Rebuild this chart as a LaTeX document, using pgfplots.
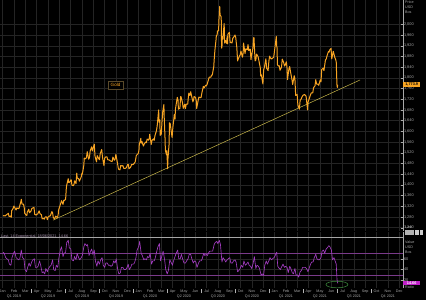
\documentclass[border=0pt]{standalone}
\usepackage{pgfplots}
\pgfplotsset{compat=1.18}
\usepackage{pgfplotstable}
\usepackage{fontspec}
\setmainfont{Liberation Sans}
\definecolor{goldc}{HTML}{F7A423}
\definecolor{trendc}{HTML}{C9B84A}
\definecolor{rsic}{HTML}{A23CC0}
\definecolor{rsiline}{HTML}{7A3A8A}
\definecolor{gridc}{HTML}{242424}
\definecolor{labelc}{HTML}{A8A8A8}
\definecolor{tagmag}{HTML}{C020C8}
\definecolor{ellc}{HTML}{3F8F3F}
\definecolor{boxc}{HTML}{5A4A2A}

\pgfplotstableread{
d p
1 1284
3 1285
7 1284
9 1287
13 1291
15 1294
17 1282
21 1283
23 1279
24 1303
28 1312
30 1321
34 1311
36 1306
38 1314
42 1311
44 1313
49 1339
50 1346
52 1328
56 1328
58 1313
59 1294
63 1287
65 1286
66 1298
70 1309
72 1296
76 1302
78 1311
80 1313
84 1316
86 1290
90 1287
92 1291
94 1291
98 1303
100 1293
104 1288
106 1273
108 1275
112 1272
114 1280
118 1280
120 1270
122 1280
126 1284
128 1284
132 1300
134 1296
136 1277
140 1273
142 1283
147 1278
149 1288
150 1305
155 1327
157 1336
158 1341
162 1327
164 1342
165 1341
169 1346
171 1390
172 1399
176 1423
177 1409
179 1409
183 1418
184 1419
186 1399
190 1397
192 1404
193 1415
197 1405
199 1444
200 1426
204 1423
206 1414
211 1430
213 1444
214 1440
218 1474
219 1500
221 1497
225 1501
227 1524
231 1496
233 1502
235 1527
239 1542
241 1527
245 1547
246 1552
248 1507
252 1486
254 1509
258 1498
260 1494
262 1517
266 1532
268 1504
272 1472
274 1499
276 1504
280 1505
282 1494
286 1493
288 1491
290 1489
294 1487
296 1504
300 1492
302 1496
304 1514
308 1484
310 1467
311 1459
315 1456
317 1472
321 1471
323 1472
325 1462
329 1461
332 1464
336 1477
338 1475
339 1460
343 1465
345 1470
346 1476
350 1476
352 1478
356 1486
359 1510
364 1517
366 1528
367 1552
370 1566
371 1574
372 1556
374 1562
378 1545
380 1552
384 1560
386 1558
388 1571
392 1567
394 1576
395 1589
399 1551
401 1566
405 1572
407 1566
409 1584
413 1602
415 1620
419 1680
420 1634
422 1643
423 1585
426 1590
428 1637
430 1674
433 1700
434 1649
436 1577
437 1530
440 1512
441 1528
443 1460
444 1498
447 1553
448 1632
450 1629
451 1618
455 1577
457 1612
461 1663
463 1646
464 1683
469 1727
471 1716
472 1683
476 1686
478 1730
479 1729
483 1707
485 1686
489 1701
491 1685
493 1702
497 1702
499 1731
500 1743
503 1734
505 1748
507 1735
511 1710
513 1719
514 1730
518 1727
520 1714
521 1685
525 1715
527 1728
531 1726
533 1727
535 1743
539 1768
541 1762
545 1772
547 1770
549 1775
553 1794
555 1803
559 1802
561 1810
563 1810
567 1842
568 1865
570 1902
573 1941
574 1958
576 1960
577 1975
580 1976
581 2018
582 2038
583 2067
584 2035
587 2028
588 1911
589 1915
590 1954
591 1944
595 2003
596 1930
598 1940
601 1929
603 1954
604 1927
605 1963
609 1970
611 1931
612 1933
616 1930
618 1947
622 1955
624 1960
626 1951
629 1912
631 1863
632 1868
636 1881
638 1886
640 1900
644 1877
646 1894
647 1930
651 1891
653 1908
657 1905
659 1924
661 1902
665 1907
667 1868
668 1879
672 1909
674 1949
675 1951
678 1863
680 1866
682 1889
686 1879
688 1866
692 1837
693 1807
695 1811
699 1777
701 1830
703 1839
707 1871
709 1836
713 1827
715 1862
717 1881
720 1873
722 1870
728 1877
730 1898
734 1943
735 1955
736 1919
737 1913
738 1849
741 1844
743 1845
745 1828
749 1840
751 1870
755 1856
757 1844
759 1848
762 1860
764 1834
765 1793
769 1834
771 1842
773 1824
777 1794
779 1775
783 1808
785 1797
787 1734
791 1738
793 1698
797 1683
799 1716
801 1719
805 1731
807 1735
811 1738
813 1734
815 1732
819 1680
820 1708
825 1729
827 1737
829 1744
833 1744
835 1763
839 1770
841 1793
843 1777
847 1776
849 1772
853 1792
855 1785
857 1831
861 1836
863 1827
867 1867
869 1870
871 1881
875 1898
877 1896
878 1903
882 1910
884 1871
888 1899
890 1888
892 1877
895 1866
896 1859
897 1812
898 1773
899 1764
900 1774
}\gold

\pgfplotstableread{
d r
1 72
4 70
8 62
11 60
15 58
18 50
22 48
25 62
29 70
32 74
36 62
39 60
43 58
46 60
50 76
53 62
57 60
60 40
64 36
67 44
71 52
74 46
78 54
81 58
85 60
88 44
92 44
95 46
99 56
102 48
106 34
109 36
113 32
116 42
120 36
123 42
127 46
130 48
134 58
137 40
141 38
144 48
148 44
151 62
155 76
158 82
162 64
165 70
169 72
172 90
176 94
179 80
183 78
186 58
190 56
193 64
197 58
200 70
204 62
207 58
211 62
214 66
218 82
221 88
225 84
228 86
232 66
235 72
239 78
242 68
246 76
249 56
253 46
256 56
260 50
263 58
267 62
270 48
274 44
277 52
281 52
284 48
288 48
291 46
295 48
298 56
302 52
305 60
309 40
312 32
316 34
319 44
323 44
326 40
330 40
333 42
337 50
340 40
344 44
347 50
351 50
354 52
358 62
361 76
365 82
368 92
372 70
375 66
379 58
382 60
386 58
389 64
393 62
396 70
400 50
403 56
407 56
410 62
414 74
417 82
421 88
424 56
428 66
431 74
435 58
438 40
442 32
445 38
449 58
452 54
456 48
459 56
463 64
466 70
470 76
473 60
477 60
480 68
484 58
487 52
491 52
494 56
498 60
501 68
505 68
508 60
512 52
515 56
519 54
522 44
526 52
529 56
533 56
536 60
540 70
543 66
547 68
550 66
554 72
557 74
561 74
564 74
568 86
571 90
575 92
578 88
582 94
585 86
589 54
592 62
596 58
599 54
603 58
606 60
610 62
613 52
617 52
620 56
624 58
627 54
631 36
634 38
638 42
641 48
645 44
648 56
652 48
655 50
659 54
662 48
666 46
669 42
673 52
676 64
680 42
683 48
687 46
690 42
694 30
697 32
701 30
704 48
708 56
711 50
715 56
718 62
722 58
725 60
729 62
732 66
736 72
739 46
743 42
746 40
750 46
753 50
757 44
760 46
764 44
767 34
771 46
774 42
778 34
781 32
785 42
788 30
792 30
795 26
799 36
802 38
806 44
809 44
813 44
816 42
820 36
823 42
827 50
830 54
834 54
837 62
841 68
844 60
848 58
851 58
855 62
858 74
862 76
865 70
869 78
872 80
876 84
879 82
883 76
886 58
890 62
893 56
896 50
897 36
898 22
900 14.66
}\rsi

\begin{document}
\begin{tikzpicture}
\fill[black] (0bp,0bp) rectangle (426bp,300bp);

% ---------------- upper panel ----------------
\begin{axis}[
  at={(0bp,300bp)}, anchor=north west,
  scale only axis, width=403bp, height=231bp,
  xmin=-0.238, xmax=35.33, ymin=1227.6, ymax=2090.8,
  axis line style={draw=none},
  xtick={0,...,35}, xticklabels={}, xmajorgrids,
  xtick style={draw=none},
  ytick={1240,1280,...,2000}, ymajorgrids,
  ytick pos=right, yticklabel pos=right,
  grid style={color=gridc, line width=0.4bp},
  major tick length=1.6bp,
  ytick style={color=labelc, line width=0.3bp},
  /pgf/number format/assume math mode=true,
  /pgf/number format/1000 sep={,},
  yticklabel style={font=\fontsize{3.9}{4.5}\selectfont, text=labelc, inner sep=0.8bp},
  clip mode=individual,
]
\addplot[trendc, line width=0.5bp] coordinates {(4.44,1268) (31.54,1792)};
\addplot[goldc, line width=1bp, line join=round] table[x expr=\thisrow{d}/30.4375, y=p] {\gold};
\draw[labelc, line width=0.4bp] (rel axis cs:1,0) -- (rel axis cs:1,1);
\node[draw=boxc, line width=0.4bp, fill=black, text=goldc, font=\fontsize{4.6}{5}\selectfont, inner xsep=2.5bp, inner ysep=2.2bp] at (axis cs:9.96,1773) {Gold};
\node[fill=goldc, text=black, anchor=west, font=\bfseries\fontsize{3.8}{4}\selectfont, inner xsep=1bp, inner ysep=1bp, minimum width=17bp] at (axis cs:35.33,1773.9) {1,773.9};
\end{axis}

\node[anchor=north west, align=left, text=labelc, font=\fontsize{3.7}{4.7}\selectfont, inner sep=0pt] at (405bp,299bp) {Price\\USD\\Bos};

% ---------------- lower panel ----------------
\begin{axis}[
  at={(0bp,68bp)}, anchor=north west,
  scale only axis, width=403bp, height=56bp,
  xmin=-0.238, xmax=35.33, ymin=6, ymax=109.3,
  axis line style={draw=none},
  xtick={0,...,35}, xticklabels={}, xmajorgrids,
  xtick style={draw=none},
  ytick={20,40,60}, ymajorgrids,
  ytick pos=right, yticklabel pos=right,
  grid style={color=gridc, line width=0.4bp},
  major tick length=1.6bp,
  ytick style={color=labelc, line width=0.3bp},
  /pgf/number format/assume math mode=true,
  yticklabel style={font=\fontsize{3.9}{4.5}\selectfont, text=labelc, inner sep=0.8bp},
  clip mode=individual,
]
\addplot[gray!70, line width=0.4bp] coordinates {(-0.238,100) (35.33,100)};
\addplot[rsiline, line width=0.5bp] coordinates {(-0.238,70) (35.33,70)};
\addplot[rsiline, line width=0.5bp] coordinates {(-0.238,30) (35.33,30)};
\addplot[rsic, line width=0.65bp, line join=round] table[x expr=\thisrow{d}/30.4375, y=r] {\rsi};
\draw[labelc, line width=0.4bp] (rel axis cs:1,0) -- (rel axis cs:1,1);
\draw[ellc, line width=0.5bp] (axis cs:29.5,12.4) ellipse [x radius=11bp, y radius=3.3bp];
\node[fill=tagmag, text=white, anchor=west, font=\bfseries\fontsize{3.8}{4}\selectfont, inner xsep=1bp, inner ysep=0.8bp, minimum width=17bp] at (axis cs:35.33,14.66) {14.66};
\end{axis}

\node[anchor=west, text=labelc!80!rsic, font=\fontsize{3.8}{4}\selectfont, inner sep=0pt] at (1bp,63bp) {Last, 14 Exponential, 18/06/2021, 14.66};
\node[anchor=north west, align=left, text=labelc, font=\fontsize{3.7}{4.7}\selectfont, inner sep=0pt] at (405bp,59bp) {Value\\USD\\Bos};
\node[anchor=west, text=labelc, font=\fontsize{3.7}{4}\selectfont, inner sep=0pt] at (405bp,73bp) {Last};
\fill[gray!60] (405bp,65bp) rectangle (414bp,69.5bp);
\fill[gray!40] (415bp,65bp) rectangle (418.5bp,69.5bp);
\fill[gray!40] (419.5bp,65bp) rectangle (423bp,69.5bp);
\node[anchor=west, text=labelc, font=\fontsize{3.7}{4}\selectfont, inner sep=0pt] at (405bp,12.5bp) {Ratio};

% month and quarter labels
\foreach \m/\nm in {0/Jan,1/Feb,2/Mar,3/Apr,4/May,5/Jun,6/Jul,7/Aug,8/Sep,9/Oct,10/Nov,11/Dec,
  12/Jan,13/Feb,14/Mar,15/Apr,16/May,17/Jun,18/Jul,19/Aug,20/Sep,21/Oct,22/Nov,23/Dec,
  24/Jan,25/Feb,26/Mar,27/Apr,28/May,29/Jun,30/Jul,31/Aug,32/Sep,33/Oct,34/Nov,35/Dec}
  \node[text=labelc, font=\fontsize{3.7}{4}\selectfont, inner sep=0pt] at ({(2.7+11.33*\m)*1bp},8.6bp) {\nm};
\foreach \q/\nm in {0/Q1 2019,1/Q2 2019,2/Q3 2019,3/Q4 2019,4/Q1 2020,5/Q2 2020,6/Q3 2020,7/Q4 2020,8/Q1 2021,9/Q2 2021,10/Q3 2021,11/Q4 2021}
  \node[text=labelc, font=\fontsize{3.7}{4}\selectfont, inner sep=0pt] at ({(2.7+11.33*(3*\q+1))*1bp},3bp) {\nm};
\foreach \q in {1,...,11}
  \draw[gray!60, line width=0.3bp] ({(2.7+11.33*(3*\q-0.5))*1bp},6.5bp) -- ({(2.7+11.33*(3*\q-0.5))*1bp},10.5bp);

\pgfresetboundingbox
\path[use as bounding box] (0bp,0bp) rectangle (426bp,300bp);
\end{tikzpicture}
\end{document}
